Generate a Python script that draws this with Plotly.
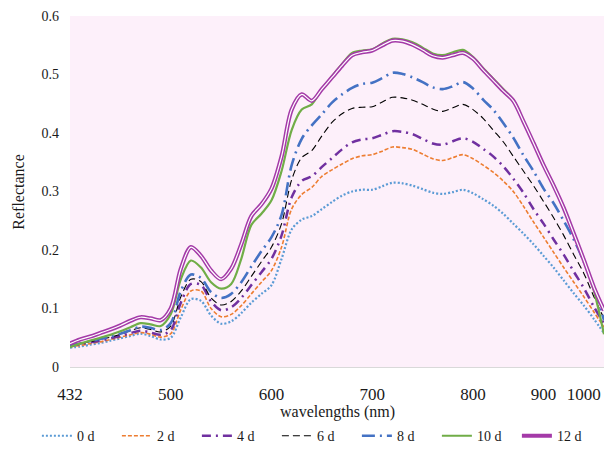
import plotly.graph_objects as go

wavelengths = [432, 439, 446, 452, 459, 466, 473, 480, 486, 493, 500,
               510, 520, 530, 540, 550, 560, 570, 580, 590, 600,
               610, 620, 630, 640, 650, 660, 670, 680, 690, 700,
               710, 720, 730, 740, 750, 760, 770, 780, 790, 800,
               814, 829, 843, 857, 871, 886, 900,
               925, 950, 975, 1000, 1013, 1026]

tick_labels = ["432", "500", "600", "700", "800", "900", "1000"]

d0 = [0.033, 0.035, 0.038, 0.041, 0.045, 0.049, 0.053, 0.057, 0.053, 0.047, 0.050, 0.085, 0.116,
      0.113, 0.088, 0.074, 0.078, 0.092, 0.110, 0.125, 0.140, 0.185, 0.235, 0.252, 0.258,
      0.270, 0.282, 0.293, 0.300, 0.303, 0.303, 0.309, 0.315, 0.314, 0.310, 0.304, 0.298, 0.296, 0.299, 0.303, 0.297,
      0.287, 0.276, 0.262, 0.245, 0.228, 0.210, 0.190, 0.170, 0.148, 0.126, 0.105, 0.082, 0.058]
d2 = [0.035, 0.037, 0.040, 0.043, 0.047, 0.051, 0.055, 0.059, 0.056, 0.051, 0.057, 0.098, 0.130,
      0.130, 0.100, 0.086, 0.090, 0.105, 0.125, 0.145, 0.165, 0.205, 0.270, 0.295, 0.307,
      0.326, 0.337, 0.347, 0.356, 0.361, 0.363, 0.369, 0.376, 0.375, 0.372, 0.364, 0.356, 0.353, 0.358, 0.363, 0.356,
      0.345, 0.333, 0.318, 0.300, 0.275, 0.248, 0.222, 0.196, 0.170, 0.145, 0.120, 0.094, 0.068]
d4 = [0.036, 0.039, 0.042, 0.045, 0.049, 0.053, 0.058, 0.062, 0.059, 0.055, 0.063, 0.110, 0.142,
      0.140, 0.112, 0.097, 0.102, 0.118, 0.140, 0.162, 0.185, 0.225, 0.290, 0.318, 0.326,
      0.342, 0.357, 0.372, 0.384, 0.389, 0.391, 0.397, 0.403, 0.402, 0.398, 0.390, 0.382, 0.380, 0.386, 0.391, 0.385,
      0.373, 0.360, 0.343, 0.322, 0.298, 0.270, 0.245, 0.218, 0.192, 0.163, 0.135, 0.103, 0.074]
d6 = [0.037, 0.040, 0.043, 0.047, 0.051, 0.056, 0.062, 0.067, 0.064, 0.060, 0.070, 0.120, 0.150,
      0.146, 0.118, 0.106, 0.112, 0.130, 0.155, 0.180, 0.205, 0.245, 0.320, 0.358, 0.370,
      0.395, 0.418, 0.433, 0.442, 0.444, 0.445, 0.453, 0.461, 0.460, 0.456, 0.449, 0.441, 0.437, 0.443, 0.449, 0.440,
      0.425, 0.405, 0.385, 0.360, 0.335, 0.310, 0.283, 0.255, 0.225, 0.192, 0.160, 0.120, 0.083]
d8 = [0.036, 0.040, 0.044, 0.048, 0.052, 0.057, 0.063, 0.069, 0.067, 0.063, 0.075, 0.130, 0.158,
      0.152, 0.128, 0.118, 0.125, 0.145, 0.172, 0.198, 0.222, 0.260, 0.345, 0.390, 0.413,
      0.432, 0.452, 0.466, 0.477, 0.484, 0.486, 0.494, 0.503, 0.501, 0.495, 0.487, 0.478, 0.475, 0.480, 0.487, 0.476,
      0.457, 0.440, 0.417, 0.392, 0.362, 0.335, 0.305, 0.280, 0.250, 0.218, 0.180, 0.135, 0.080]
d10 = [0.034, 0.040, 0.045, 0.050, 0.055, 0.061, 0.068, 0.075, 0.073, 0.070, 0.090, 0.150, 0.182,
       0.170, 0.145, 0.134, 0.142, 0.185, 0.243, 0.262, 0.285, 0.335, 0.405, 0.440, 0.449,
       0.475, 0.497, 0.518, 0.537, 0.541, 0.543, 0.553, 0.561, 0.560, 0.555, 0.546, 0.536, 0.533, 0.538, 0.542, 0.530,
       0.511, 0.493, 0.475, 0.457, 0.421, 0.384, 0.346, 0.311, 0.272, 0.228, 0.182, 0.130, 0.056]
d12 = [0.040, 0.047, 0.052, 0.058, 0.064, 0.071, 0.079, 0.085, 0.083, 0.080, 0.100, 0.168, 0.205,
       0.190, 0.165, 0.150, 0.168, 0.210, 0.258, 0.278, 0.305, 0.360, 0.440, 0.466, 0.455,
       0.475, 0.495, 0.515, 0.533, 0.538, 0.541, 0.550, 0.558, 0.557, 0.551, 0.542, 0.532, 0.529, 0.533, 0.537, 0.527,
       0.508, 0.490, 0.472, 0.455, 0.420, 0.383, 0.345, 0.310, 0.272, 0.228, 0.183, 0.136, 0.097]

series_names = ["0 d", "2 d", "4 d", "6 d", "8 d", "10 d", "12 d"]
series_values = [d0, d2, d4, d6, d8, d10, d12]
styles = [
    dict(color="#5B9BD5", width=2.2, dash="2px,2px"),
    dict(color="#ED7D31", width=1.6, dash="4px,2px"),
    dict(color="#7030A0", width=2.5, dash="9px,5px,2px,5px"),
    dict(color="#000000", width=1.1, dash="7px,4px"),
    dict(color="#4472C4", width=2.6, dash="13px,5px,2px,5px"),
    dict(color="#70AD47", width=2.2, dash="solid"),
    dict(color="#A43AA8", width=4.2, dash="solid"),
]

xcat = [str(w) for w in wavelengths]
font_family = "Times New Roman, Liberation Serif, serif"

fig = go.Figure()
for name, vals, st in zip(series_names, series_values, styles):
    fig.add_trace(go.Scatter(
        x=xcat, y=vals, mode="lines", name=name,
        line=dict(color=st["color"], width=st["width"], dash=st["dash"],
                  shape="spline", smoothing=0.9),
    ))
# inner white stroke to give the 12 d line its double-line look
fig.add_trace(go.Scatter(
    x=xcat, y=d12, mode="lines", name="12 d", showlegend=False,
    line=dict(color="#FFFFFF", width=1.2, shape="spline", smoothing=0.9),
    hoverinfo="skip",
))

fig.update_layout(
    width=609, height=470,
    margin=dict(l=70, r=5, t=16, b=103),
    paper_bgcolor="#FFFFFF",
    plot_bgcolor="#FDF0FA",
    font=dict(family=font_family, color="#1A1A1A", size=14),
    showlegend=True,
    legend=dict(orientation="h", x=-0.062, xanchor="left", y=-0.197, yanchor="middle",
                font=dict(size=14, family=font_family), entrywidth=35,
                bgcolor="rgba(0,0,0,0)", itemwidth=30),
    annotations=[
        dict(text="Reflectance", xref="paper", yref="paper", x=-0.097, y=0.5,
             textangle=-90, showarrow=False, font=dict(size=16, family=font_family),
             xanchor="center", yanchor="middle"),
        dict(text="wavelengths (nm)", xref="paper", yref="paper", x=0.5, y=-0.128,
             showarrow=False, font=dict(size=16, family=font_family),
             xanchor="center", yanchor="middle"),
    ],
)
fig.update_xaxes(
    type="category", range=[0, len(wavelengths) - 1],
    tickmode="array", tickvals=tick_labels, ticktext=tick_labels,
    showgrid=False, zeroline=False, showline=True, linecolor="#D9D9D9", linewidth=1,
    ticks="", tickfont=dict(size=17, family=font_family), ticklabelstandoff=12,
)
fig.update_yaxes(
    range=[0, 0.6], tickmode="array",
    tickvals=[0, 0.1, 0.2, 0.3, 0.4, 0.5, 0.6],
    ticktext=["0", "0.1", "0.2", "0.3", "0.4", "0.5", "0.6"],
    showgrid=False, zeroline=False, showline=False, ticks="",
    tickfont=dict(size=14, family=font_family), ticklabelstandoff=10,
)

fig.write_html("out.html", config={"displayModeBar": False},
               post_script="document.body.style.margin='0';")
